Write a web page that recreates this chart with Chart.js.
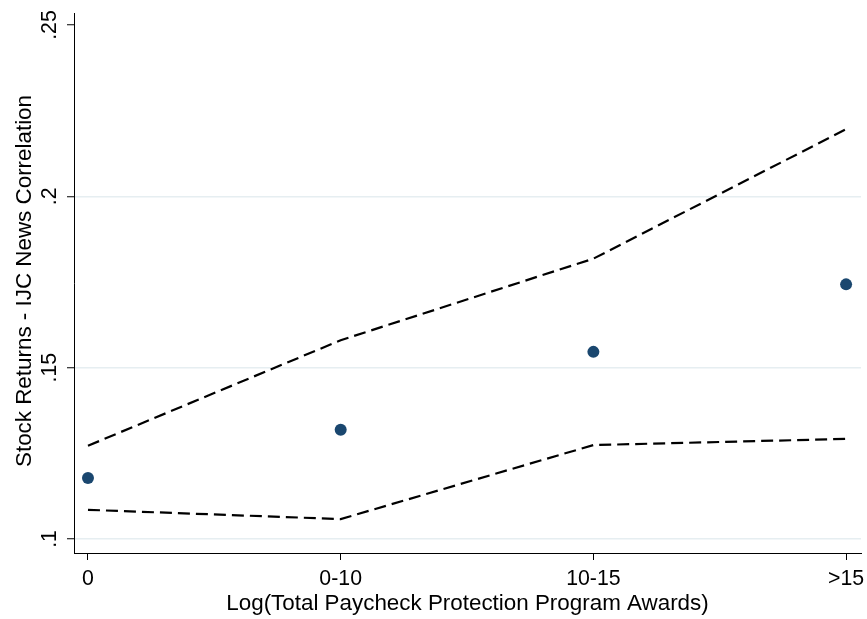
<!DOCTYPE html>
<html>
<head>
<meta charset="utf-8">
<script src="https://cdn.jsdelivr.net/npm/chart.js@4.4.1/dist/chart.umd.min.js"></script>
<style>
  html, body { margin: 0; padding: 0; background: #fff; }
  #wrap { width: 867px; height: 619px; }
</style>
</head>
<body>
<div id="wrap"><canvas id="corr" width="867" height="619"></canvas></div>
<script>
// categories and values
var cats = ['0', '0-10', '10-15', '>15'];
var est = [0.1178, 0.1319, 0.1546, 0.1743];
var upper = [0.1272, 0.1580, 0.1818, 0.2196];
var lower = [0.1085, 0.1058, 0.1274, 0.1292];
var yTicks = [0.1, 0.15, 0.2, 0.25];
var yTickLabels = ['.1', '.15', '.2', '.25'];

var FONT = '"Liberation Sans", Arial, Helvetica, sans-serif';

function pts(arr) {
    return arr.map(function (v, i) { return { x: i, y: v }; });
}

// draws the rotated y labels, the x labels and both titles
var textPlugin = {
    id: 'stataText',
    afterDraw: function (chart) {
        var c = chart.ctx;
        var ys = chart.scales.y, xs = chart.scales.x;
        var area = chart.chartArea;
        c.save();
        c.fillStyle = '#000';
        c.font = '21.3px ' + FONT;
        c.textAlign = 'center';
        c.textBaseline = 'alphabetic';
        yTicks.forEach(function (v, i) {
            var py = ys.getPixelForValue(v);
            c.save();
            c.translate(56, py);
            c.rotate(-Math.PI / 2);
            c.fillText(yTickLabels[i], 0, 0);
            c.restore();
        });
        cats.forEach(function (lab, i) {
            c.fillText(lab, xs.getPixelForValue(i), 585);
        });
        c.font = '22.4px ' + FONT;
        c.fillText('Log(Total Paycheck Protection Program Awards)', (area.left + area.right) / 2, 610);
        c.save();
        c.translate(31, 281);
        c.rotate(-Math.PI / 2);
        c.fillText('Stock Returns - IJC News Correlation', 0, 0);
        c.restore();
        c.restore();
    }
};

var corrChart = new Chart(document.getElementById('corr').getContext('2d'), {
    type: 'scatter',
    data: {
        datasets: [{
            label: 'estimate',
            data: pts(est),
            showLine: false,
            pointRadius: 6,
            pointHoverRadius: 6,
            pointBorderWidth: 0,
            pointBackgroundColor: '#1a476f',
            borderColor: '#1a476f'
        }, {
            label: 'upper',
            data: pts(upper),
            showLine: true,
            pointRadius: 0,
            borderColor: '#000',
            borderWidth: 2.2,
            borderDash: [12, 6],
            tension: 0
        }, {
            label: 'lower',
            data: pts(lower),
            showLine: true,
            pointRadius: 0,
            borderColor: '#000',
            borderWidth: 2.2,
            borderDash: [12, 6],
            tension: 0
        }]
    },
    options: {
        responsive: false,
        animation: false,
        devicePixelRatio: 1,
        layout: { padding: { top: 13, right: 5, left: 0, bottom: 0 } },
        plugins: {
            legend: { display: false },
            tooltip: { enabled: false }
        },
        scales: {
            x: {
                type: 'linear',
                min: -0.0553,
                max: 3.059,
                afterFit: function (s) { s.height = 66; },
                ticks: { display: false, stepSize: 1, includeBounds: false },
                grid: { drawOnChartArea: false, drawTicks: true, tickLength: 7, tickColor: '#000', tickWidth: 1 },
                border: { color: '#000', width: 1 }
            },
            y: {
                min: 0.0959,
                max: 0.2535,
                afterFit: function (s) { s.width = 74; },
                ticks: { display: false, stepSize: 0.05, includeBounds: false },
                grid: {
                    drawOnChartArea: true,
                    drawTicks: true,
                    tickLength: 7,
                    tickColor: '#000',
                    tickWidth: 1,
                    lineWidth: 1.5,
                    color: function (ctx) {
                        if (ctx.tick && Math.abs(ctx.tick.value - 0.25) < 1e-6) return 'rgba(0,0,0,0)';
                        return '#e6eef1';
                    }
                },
                border: { color: '#000', width: 1 }
            }
        }
    },
    plugins: [textPlugin]
});
</script>
</body>
</html>
